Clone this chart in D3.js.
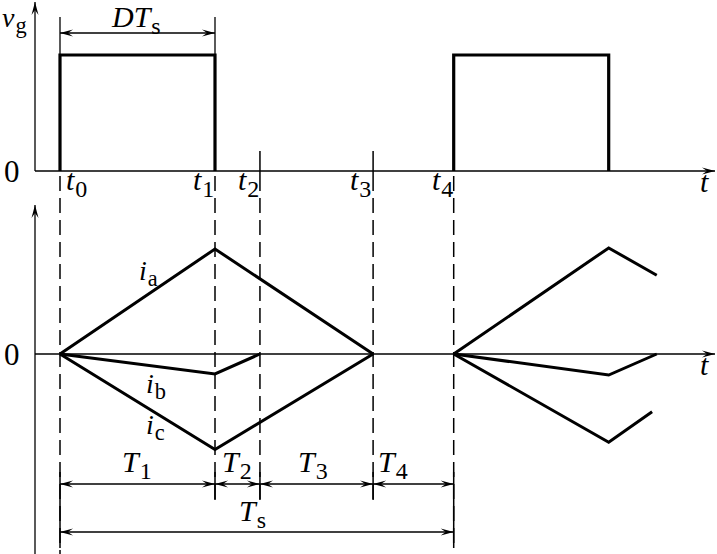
<!DOCTYPE html>
<html>
<head>
<meta charset="utf-8">
<script src="https://cdn.jsdelivr.net/npm/d3@7"></script>
</head>
<body style="margin:0">
<script>
// switching instants (t0 = 0, t1 = D*Ts = 1)
var tickNames = ["0", "1", "2", "3", "4"];
var tickTimes = [0, 1, 1.29, 2.02, 2.54];
var tickLabelX = [66, 193, 238, 350, 432];

// gate signal: two pulses
var pulseStarts = [0, 2.54];
var pulseEnds = [1, 3.54];

// currents (normalised), first and second period
var iaTimes = [0, 1, 2.02], iaValues = [0, 1, 0];
var ibTimes = [0, 1, 1.29], ibValues = [0, -0.19, 0];
var icTimes = [0, 1, 2.02], icValues = [0, -0.91, 0];
var ia2Times = [2.54, 3.54, 3.85], ia2Values = [0, 1.01, 0.75];
var ib2Times = [2.54, 3.54, 3.85], ib2Values = [0, -0.2, 0];
var ic2Times = [2.54, 3.54, 3.82], ic2Values = [0, -0.84, -0.55];

// interval labels
var intervalNames = ["1", "2", "3", "4"];
var intervalStarts = [0, 1, 1.29, 2.02];
var intervalEnds = [1, 1.29, 2.02, 2.54];

var width = 717, height = 554;

var x = d3.scaleLinear().domain([0, 1]).range([60, 215]);
var yv = d3.scaleLinear().domain([0, 1]).range([171, 55]);
var yi = d3.scaleLinear().domain([0, 1]).range([354, 249]);

var svg = d3.select("body").append("svg")
  .attr("width", width).attr("height", height);

var defs = svg.append("defs");
defs.append("marker")
  .attr("id", "arr")
  .attr("viewBox", "-14 -5 16 10")
  .attr("refX", 0).attr("refY", 0)
  .attr("markerWidth", 16).attr("markerHeight", 10)
  .attr("markerUnits", "userSpaceOnUse")
  .attr("orient", "auto-start-reverse")
  .append("path").attr("d", "M0,0 L-13,-3.5 L-8,0 L-13,3.5 Z").attr("fill", "#000");

// text helper: italic symbol with upright subscript
function sym(px, py, main, sub, size) {
  var t = svg.append("text").attr("x", px).attr("y", py)
    .attr("font-size", size)
    .style("font-family", "'Liberation Serif'");
  t.append("tspan").style("font-style", "italic").text(main);
  if (sub) t.append("tspan").attr("dx", 1).attr("dy", size * 0.22)
    .attr("font-size", size * 0.8).text(sub);
  return t;
}
function plain(px, py, str, size) {
  svg.append("text").attr("x", px).attr("y", py)
    .attr("font-size", size)
    .style("font-family", "'Liberation Serif'").text(str);
}

sym(2, 27, "v", "g", 28);
plain(4, 182, "0", 31);
plain(4, 365, "0", 31);
sym(700, 192, "t", null, 30);
sym(700, 375, "t", null, 30);

tickTimes.forEach(function(t, i) {
  sym(tickLabelX[i], 190, "t", tickNames[i], 30);
});

sym(112, 27, "DT", "s", 30);

sym(139, 280, "i", "a", 28);
sym(146, 393, "i", "b", 28);
sym(146, 434, "i", "c", 28);

var intervalLabelX = [122, 222, 298, 378];
intervalNames.forEach(function(n, i) {
  sym(intervalLabelX[i], 472, "T", n, 30);
});
sym(239, 521, "T", "s", 30);

var axisX0 = 35, axisX1 = 715;

function axes(yZero, yTop, yBottom) {
  svg.append("line")
    .attr("x1", axisX0).attr("x2", axisX0)
    .attr("y1", yBottom).attr("y2", yTop)
    .attr("stroke", "#000").attr("stroke-width", 1.3)
    .attr("marker-end", "url(#arr)");
  svg.append("line")
    .attr("x1", axisX0).attr("x2", axisX1)
    .attr("y1", yZero).attr("y2", yZero)
    .attr("stroke", "#000").attr("stroke-width", 1.3)
    .attr("marker-end", "url(#arr)");
}
axes(171, 2, 171);
axes(354, 205, 554);

// dashed guides
var dashBottom = [554, 500, 500, 500, 548];
svg.selectAll("line.guide")
  .data(tickTimes)
  .enter().append("line")
  .attr("class", "guide")
  .attr("x1", function(d) { return x(d); })
  .attr("x2", function(d) { return x(d); })
  .attr("y1", 176)
  .attr("y2", function(d, i) { return dashBottom[i]; })
  .attr("stroke", "#000").attr("stroke-width", 1.5)
  .attr("stroke-dasharray", "15,7");

// solid ticks for t2 and t3 above the axis
[2, 3].forEach(function(i) {
  svg.append("line")
    .attr("x1", x(tickTimes[i])).attr("x2", x(tickTimes[i]))
    .attr("y1", 151).attr("y2", 176)
    .attr("stroke", "#000").attr("stroke-width", 1.5);
});

// solid ticks across dimension lines
tickTimes.forEach(function(t, i) {
  svg.append("line")
    .attr("x1", x(t)).attr("x2", x(t))
    .attr("y1", 472).attr("y2", (i === 0 || i === 4) ? 548 : 500)
    .attr("stroke", "#000").attr("stroke-width", 1.5);
});

// pulses
var pulseLine = d3.line().x(function(d) { return x(d[0]); }).y(function(d) { return yv(d[1]); });
pulseStarts.forEach(function(s, i) {
  svg.append("path")
    .attr("d", pulseLine([[s, 0], [s, 1], [pulseEnds[i], 1], [pulseEnds[i], 0]]))
    .attr("fill", "none").attr("stroke", "#000").attr("stroke-width", 3.2)
    .attr("stroke-linejoin", "miter");
});

// DTs dimension
[0, 1].forEach(function(t) {
  svg.append("line").attr("x1", x(t)).attr("x2", x(t)).attr("y1", 17).attr("y2", 56)
    .attr("stroke", "#000").attr("stroke-width", 1.3);
});
svg.append("line").attr("x1", x(0)).attr("x2", x(1)).attr("y1", 33).attr("y2", 33)
  .attr("stroke", "#000").attr("stroke-width", 1.3)
  .attr("marker-start", "url(#arr)").attr("marker-end", "url(#arr)");

// currents
var curLine = d3.line().x(function(d) { return x(d[0]); }).y(function(d) { return yi(d[1]); });
function drawCurrent(ts, vs) {
  svg.append("path")
    .attr("d", curLine(d3.zip(ts, vs)))
    .attr("fill", "none").attr("stroke", "#000").attr("stroke-width", 3)
    .attr("stroke-linejoin", "miter");
}
drawCurrent(iaTimes, iaValues);
drawCurrent(ibTimes, ibValues);
drawCurrent(icTimes, icValues);
drawCurrent(ia2Times, ia2Values);
drawCurrent(ib2Times, ib2Values);
drawCurrent(ic2Times, ic2Values);

// interval dimension lines
intervalStarts.forEach(function(s, i) {
  svg.append("line").attr("x1", x(s)).attr("x2", x(intervalEnds[i]))
    .attr("y1", 484).attr("y2", 484)
    .attr("stroke", "#000").attr("stroke-width", 1.3)
    .attr("marker-start", "url(#arr)").attr("marker-end", "url(#arr)");
});
svg.append("line").attr("x1", x(0)).attr("x2", x(2.54))
  .attr("y1", 532).attr("y2", 532)
  .attr("stroke", "#000").attr("stroke-width", 1.3)
  .attr("marker-start", "url(#arr)").attr("marker-end", "url(#arr)");
</script>
</body>
</html>
